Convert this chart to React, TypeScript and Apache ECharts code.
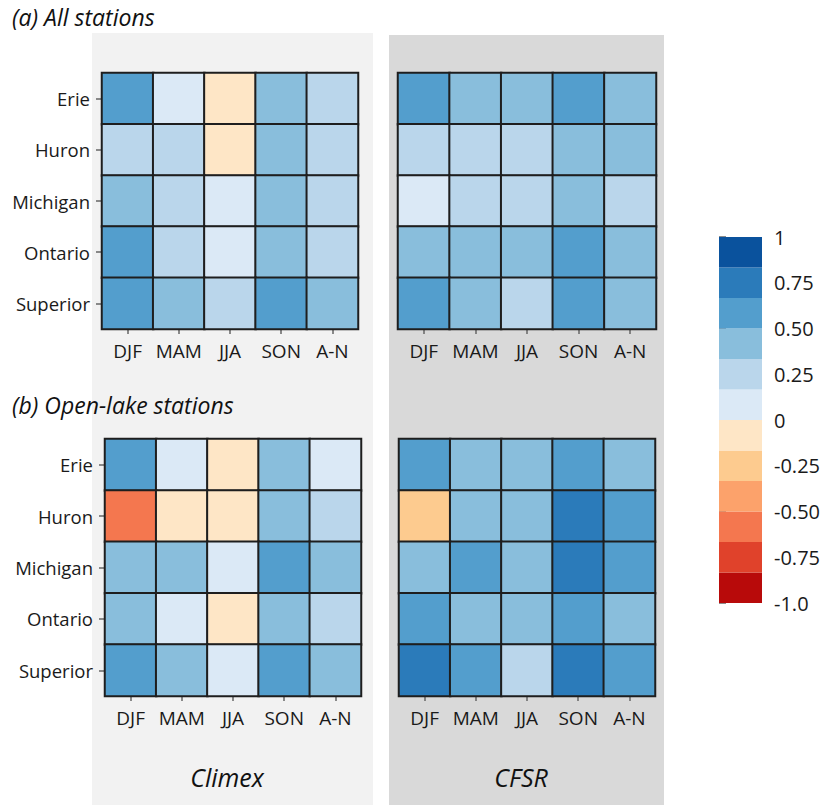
import React, { useEffect, useRef } from "react";
import * as echarts from "echarts";

const seasons = ["DJF", "MAM", "JJA", "SON", "A-N"];
const lakes = ["Erie", "Huron", "Michigan", "Ontario", "Superior"];

// rows: Erie, Huron, Michigan, Ontario, Superior ; cols: DJF, MAM, JJA, SON, A-N
const climexAll = [
  [0.55, 0.1, -0.05, 0.42, 0.3],
  [0.3, 0.28, -0.05, 0.42, 0.3],
  [0.42, 0.3, 0.1, 0.42, 0.3],
  [0.55, 0.3, 0.1, 0.42, 0.3],
  [0.55, 0.42, 0.25, 0.55, 0.42],
];
const cfsrAll = [
  [0.55, 0.42, 0.42, 0.55, 0.42],
  [0.3, 0.28, 0.28, 0.4, 0.42],
  [0.12, 0.28, 0.3, 0.4, 0.3],
  [0.42, 0.42, 0.42, 0.55, 0.42],
  [0.55, 0.42, 0.28, 0.55, 0.42],
];
const climexOpen = [
  [0.55, 0.1, -0.05, 0.42, 0.1],
  [-0.6, -0.05, -0.05, 0.42, 0.3],
  [0.42, 0.42, 0.1, 0.55, 0.42],
  [0.42, 0.1, -0.05, 0.42, 0.3],
  [0.55, 0.42, 0.1, 0.55, 0.42],
];
const cfsrOpen = [
  [0.55, 0.42, 0.42, 0.55, 0.42],
  [-0.25, 0.42, 0.42, 0.72, 0.55],
  [0.42, 0.55, 0.42, 0.72, 0.55],
  [0.55, 0.42, 0.42, 0.55, 0.42],
  [0.72, 0.55, 0.3, 0.72, 0.55],
];

// colour bins from -1 to 1, each 1/6 wide
const binEdges = [-1, -5 / 6, -4 / 6, -3 / 6, -2 / 6, -1 / 6, 0, 1 / 6, 2 / 6, 3 / 6, 4 / 6, 5 / 6, 1];
const palette = [
  "#b80a0a", "#e0422b", "#f4774f", "#fca26b", "#fdcb8f", "#fee6c6",
  "#dbe9f6", "#bad6eb", "#89bedc", "#539ecd", "#2b7bba", "#0a529d",
];
const colorbarTicks = [-1, -0.75, -0.5, -0.25, 0, 0.25, 0.5, 0.75, 1];

const FONT = "'Open Sans', sans-serif";

function toCells(m: number[][]) {
  const out: number[][] = [];
  m.forEach((row, r) => row.forEach((v, c) => out.push([c, r, v])));
  return out;
}

export default function App() {
  const ref = useRef<HTMLDivElement>(null);
  useEffect(() => {
    if (!ref.current) return;
    const chart = echarts.init(ref.current, undefined, { renderer: "svg" });

    const grids = [
      { left: 102, top: 73, width: 256, height: 256 },
      { left: 398, top: 73, width: 258, height: 256 },
      { left: 105, top: 439, width: 256, height: 257 },
      { left: 399, top: 439, width: 256, height: 257 },
      { left: 719, top: 237, width: 43, height: 366 },
    ];

    const xAxes: any[] = [0, 1, 2, 3].map((i) => ({
      type: "category",
      gridIndex: i,
      data: seasons,
      position: "bottom",
      axisLine: { show: false },
      axisTick: { show: true, alignWithLabel: true, length: 5, lineStyle: { color: "#666", width: 1.5 } },
      axisLabel: { color: "#1a1a1a", fontSize: 19, fontFamily: FONT, margin: 12, interval: 0 },
      splitLine: { show: false },
    }));
    xAxes.push({ type: "value", gridIndex: 4, min: 0, max: 1, show: false });

    const yAxes: any[] = [0, 1, 2, 3].map((i) => ({
      type: "category",
      gridIndex: i,
      data: lakes,
      inverse: true,
      axisLine: { show: false },
      axisTick: { show: i % 2 === 0, alignWithLabel: true, length: 6, lineStyle: { color: "#666", width: 1.5 } },
      axisLabel: { show: i % 2 === 0, color: "#1a1a1a", fontSize: 18.5, fontFamily: FONT, margin: 12, interval: 0 },
      splitLine: { show: false },
    }));
    yAxes.push({
      type: "value",
      gridIndex: 4,
      position: "right",
      min: -1,
      max: 1,
      interval: 0.25,
      axisLine: { show: false },
      splitLine: { show: false },
      axisTick: { show: true, length: 7, lineStyle: { color: "#666", width: 1.5 } },
      axisLabel: {
        color: "#1a1a1a",
        fontSize: 20,
        fontFamily: FONT,
        margin: 12,
        formatter: (v: number) => {
          if (!colorbarTicks.some((t) => Math.abs(t - v) < 1e-9)) return "";
          if (Math.abs(v - 1) < 1e-9) return "1";
          if (Math.abs(v + 1) < 1e-9) return "-1.0";
          if (Math.abs(v) < 1e-9) return "0";
          return v.toFixed(2);
        },
      },
    });

    const mats = [climexAll, cfsrAll, climexOpen, cfsrOpen];
    const series: any[] = mats.map((m, i) => ({
      type: "heatmap",
      xAxisIndex: i,
      yAxisIndex: i,
      data: toCells(m),
      itemStyle: { borderColor: "#1e1e1e", borderWidth: 2 },
      emphasis: { disabled: true },
    }));

    const cbData = palette.map((_, i) => [binEdges[i], binEdges[i + 1], i]);
    series.push({
      type: "custom",
      xAxisIndex: 4,
      yAxisIndex: 4,
      data: cbData,
      encode: { y: [0, 1] },
      renderItem: (params: any, api: any) => {
        const lo = api.value(0);
        const hi = api.value(1);
        const idx = api.value(2);
        const a = api.coord([0, hi]);
        const b = api.coord([1, lo]);
        return {
          type: "rect",
          shape: { x: a[0], y: a[1], width: b[0] - a[0], height: b[1] - a[1] },
          style: { fill: palette[idx] },
        };
      },
    });

    const pieces = palette.map((c, i) =>
      i === palette.length - 1
        ? { gte: binEdges[i], lte: binEdges[i + 1], color: c }
        : { gte: binEdges[i], lt: binEdges[i + 1], color: c }
    );

    chart.setOption({
      animation: false,
      backgroundColor: "#ffffff",
      grid: grids,
      xAxis: xAxes,
      yAxis: yAxes,
      visualMap: {
        type: "piecewise",
        show: false,
        seriesIndex: [0, 1, 2, 3],
        dimension: 2,
        pieces,
      },
      graphic: [
        { type: "rect", z: -10, shape: { x: 92, y: 33, width: 281, height: 772 }, style: { fill: "#f2f2f2" } },
        { type: "rect", z: -10, shape: { x: 389, y: 35, width: 275, height: 770 }, style: { fill: "#d9d9d9" } },
        {
          type: "text", x: 12, y: 17,
          style: { text: "(a) All stations", fontSize: 23, fontStyle: "italic", fontFamily: FONT, fill: "#111", verticalAlign: "middle" },
        },
        {
          type: "text", x: 12, y: 405,
          style: { text: "(b) Open-lake stations", fontSize: 23, fontStyle: "italic", fontFamily: FONT, fill: "#111", verticalAlign: "middle" },
        },
        {
          type: "text", x: 227, y: 777,
          style: { text: "Climex", fontSize: 25, fontStyle: "italic", fontFamily: FONT, fill: "#111", align: "center", verticalAlign: "middle" },
        },
        {
          type: "text", x: 521, y: 777,
          style: { text: "CFSR", fontSize: 25, fontStyle: "italic", fontFamily: FONT, fill: "#111", align: "center", verticalAlign: "middle" },
        },
      ],
      series,
    });
    return () => chart.dispose();
  }, []);
  return (
    <div
      ref={ref}
      style={{ position: "fixed", left: 0, top: 0, width: 827, height: 805 }}
    />
  );
}
